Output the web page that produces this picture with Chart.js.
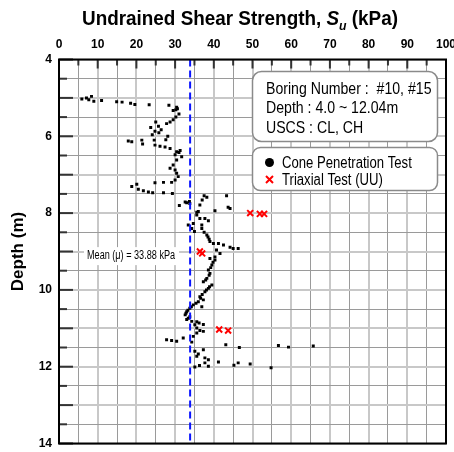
<!DOCTYPE html>
<html>
<head>
<meta charset="utf-8">
<script src="https://cdn.jsdelivr.net/npm/chart.js@4/dist/chart.umd.min.js"></script>
<style>
  html, body { margin: 0; padding: 0; background: #fff; }
</style>
</head>
<body>
<canvas id="chart" width="454" height="452"></canvas>
<script>
// CPT profile: undrained shear strength (kPa) against depth (m)
const cptSu = [
  5.9, 7.1, 7.7, 8.4, 9.0, 11.0, 14.9, 16.3, 18.5, 19.6, 23.3, 28.4,
  30.4, 30.6, 30.2, 29.5, 31.0, 30.2, 29.5, 28.7, 27.8, 25.0, 23.7, 25.7,
  26.4, 24.8, 25.8, 24.1, 28.1, 27.6, 24.6, 17.9, 18.8, 21.4, 21.6, 24.8,
  26.1, 27.4, 28.7, 31.3, 31.0, 30.0, 30.4, 31.7, 30.4, 29.5, 28.7, 30.0,
  30.4, 30.8, 30.0, 29.1, 27.0, 24.8, 20.1, 18.8, 20.5, 21.8, 23.1, 24.2,
  27.0, 29.3, 31.1, 32.6, 33.7, 33.0, 33.8, 37.5, 38.2, 37.0, 36.4, 43.3,
  40.3, 43.7, 44.2, 35.6, 36.0, 35.6, 36.4, 37.7, 38.6, 34.7, 33.4, 34.3,
  35.0, 36.9, 36.9, 37.5, 38.5, 38.2, 38.8, 39.0, 39.9, 41.2, 42.5, 44.2,
  45.0, 46.3, 40.7, 41.6, 40.3, 39.0, 40.3, 39.8, 39.5, 39.2, 38.6, 39.0,
  38.8, 38.2, 37.9, 37.3, 39.5, 38.9, 38.6, 38.1, 37.7, 37.0, 36.4, 36.6,
  37.3, 36.0, 35.4, 36.9, 34.7, 34.2, 33.8, 33.3, 33.0, 32.8, 32.6, 33.8,
  33.4, 33.0, 34.3, 35.6, 35.1, 36.2, 37.3, 35.6, 36.4, 37.3, 35.6, 34.7,
  34.3, 27.8, 29.1, 30.4, 32.1, 35.1, 36.0, 37.3, 35.6, 37.7, 38.6, 37.7,
  38.6, 36.3, 35.1, 43.1, 46.6, 56.7, 59.3, 65.7, 41.2, 45.2, 46.3, 49.4,
  54.8
];
const cptDepth = [
  5.03, 5.00, 5.05, 4.96, 5.09, 5.07, 5.10, 5.11, 5.14, 5.17, 5.18, 5.19,
  5.24, 5.28, 5.31, 5.33, 5.42, 5.50, 5.57, 5.63, 5.67, 5.63, 5.77, 5.74,
  5.83, 5.87, 5.91, 5.96, 6.00, 6.09, 6.10, 6.12, 6.14, 6.10, 6.20, 6.23,
  6.26, 6.28, 6.32, 6.37, 6.42, 6.48, 6.40, 6.53, 6.62, 6.75, 6.83, 6.88,
  6.96, 7.05, 7.14, 7.20, 7.20, 7.21, 7.25, 7.31, 7.38, 7.42, 7.45, 7.47,
  7.47, 7.49, 7.80, 7.71, 7.70, 7.73, 7.75, 7.55, 7.59, 7.66, 7.79, 7.55,
  7.94, 7.85, 7.88, 7.98, 7.96, 8.05, 8.14, 8.14, 8.20, 8.27, 8.31, 8.40,
  8.48, 8.31, 8.40, 8.50, 8.62, 8.57, 8.68, 8.74, 8.79, 8.79, 8.83, 8.89,
  8.92, 8.92, 8.96, 9.05, 9.14, 9.18, 9.22, 9.28, 9.35, 9.42, 9.48, 9.57,
  9.62, 9.70, 9.74, 9.79, 9.87, 9.92, 9.96, 10.00, 10.05, 10.12, 10.18, 10.22,
  10.26, 10.31, 10.35, 10.44, 10.39, 10.44, 10.48, 10.53, 10.57, 10.61, 10.65, 10.70,
  10.74, 10.77, 10.82, 10.83, 10.91, 10.86, 10.90, 10.99, 11.06, 11.08, 11.12, 11.21,
  11.36, 11.30, 11.32, 11.34, 11.25, 11.60, 11.67, 11.56, 11.73, 11.77, 11.82, 11.90,
  11.99, 11.97, 12.01, 11.43, 11.50, 11.45, 11.49, 11.46, 11.88, 11.96, 11.90, 11.93,
  12.03
];

// Triaxial (UU) results
const uuSu = [49.4, 51.9, 53.0, 36.4, 37.0, 41.4, 43.7];
const uuDepth = [8.00, 8.02, 8.02, 9.00, 9.05, 11.03, 11.06];

const meanSu = 33.88;
const suTickLabels = [0, 10, 20, 30, 40, 50, 60, 70, 80, 90, 100];
const depthTickLabels = [4, 6, 8, 10, 12, 14];
const infoLines = ['Boring Number :  #10, #15', 'Depth : 4.0 ~ 12.04m', 'USCS : CL, CH'];
const legendLabels = ['Cone Penetration Test', 'Triaxial Test (UU)'];

const FONT = "'Liberation Sans', Arial, sans-serif";

function toPoints(xs, ys) {
  return xs.map((x, i) => ({ x: x, y: ys[i] }));
}

// narrow text: draw with a horizontal squeeze
function narrowText(ctx, text, x, y, squeeze) {
  ctx.save();
  ctx.translate(x, y);
  ctx.scale(squeeze, 1);
  ctx.fillText(text, 0, 0);
  ctx.restore();
}

function roundBox(ctx, x, y, w, h, r) {
  ctx.beginPath();
  ctx.moveTo(x + r, y);
  ctx.lineTo(x + w - r, y);
  ctx.arcTo(x + w, y, x + w, y + r, r);
  ctx.lineTo(x + w, y + h - r);
  ctx.arcTo(x + w, y + h, x + w - r, y + h, r);
  ctx.lineTo(x + r, y + h);
  ctx.arcTo(x, y + h, x, y + h - r, r);
  ctx.lineTo(x, y + r);
  ctx.arcTo(x, y, x + r, y, r);
  ctx.closePath();
}

const decorPlugin = {
  id: 'decor',
  afterDatasetsDraw(chart) {
    const ctx = chart.ctx;
    const a = chart.chartArea;
    const xs = chart.scales.x;
    const ys = chart.scales.y;
    ctx.save();

    // inner tick marks
    ctx.strokeStyle = '#333';
    ctx.lineWidth = 2;
    for (let v = 0; v <= 100; v += 5) {
      const px = xs.getPixelForValue(v);
      const len = v % 10 === 0 ? 9 : 6;
      ctx.beginPath();
      ctx.moveTo(px, a.top);
      ctx.lineTo(px, a.top + len);
      ctx.stroke();
    }
    for (let d = 4; d <= 14; d += 0.5) {
      const py = ys.getPixelForValue(d);
      const len = d % 1 === 0 ? 14 : 8;
      ctx.beginPath();
      ctx.moveTo(a.left, py);
      ctx.lineTo(a.left + len, py);
      ctx.stroke();
    }

    // plot frame
    ctx.strokeStyle = '#000';
    ctx.lineWidth = 2;
    ctx.strokeRect(a.left, a.top, a.right - a.left, a.bottom - a.top);

    // mean label
    const label = 'Mean (\u03bc) = ' + meanSu.toFixed(2) + ' kPa';
    ctx.font = '12px ' + FONT;
    const squeeze = 0.76;
    const tw = ctx.measureText(label).width * squeeze;
    const lx = xs.getPixelForValue(meanSu) - 15 - tw;
    const ly = ys.getPixelForValue(9.12);
    ctx.fillStyle = '#fff';
    ctx.fillRect(lx - 3, ly - 9, tw + 7, 18);
    ctx.fillStyle = '#000';
    ctx.textBaseline = 'middle';
    narrowText(ctx, label, lx, ly, squeeze);

    // info box
    ctx.lineWidth = 1.5;
    ctx.strokeStyle = '#8a8a8a';
    ctx.fillStyle = '#fff';
    roundBox(ctx, 252.5, 71.5, 185, 70, 9);
    ctx.fill();
    ctx.stroke();
    roundBox(ctx, 252.5, 147.5, 185, 43, 8);
    ctx.fill();
    ctx.stroke();

    ctx.fillStyle = '#000';
    ctx.textBaseline = 'alphabetic';
    ctx.font = '17px ' + FONT;
    infoLines.forEach((t, i) => narrowText(ctx, t, 266, 93.5 + i * 19.6, 0.83));

    // legend
    ctx.font = '16px ' + FONT;
    ctx.beginPath();
    ctx.arc(269.5, 162.5, 4.5, 0, Math.PI * 2);
    ctx.fill();
    narrowText(ctx, legendLabels[0], 282, 167.5, 0.82);
    ctx.strokeStyle = '#ff0000';
    ctx.lineWidth = 2;
    ctx.beginPath();
    ctx.moveTo(266, 176); ctx.lineTo(273, 183);
    ctx.moveTo(273, 176); ctx.lineTo(266, 183);
    ctx.stroke();
    narrowText(ctx, legendLabels[1], 282, 184.5, 0.82);

    // chart title with subscript
    const cx = 240, by = 25;
    const p1 = 'Undrained Shear Strength, ';
    const p3 = ' (kPa)';
    const fMain = 'bold 20px ' + FONT;
    const fItal = 'italic bold 20px ' + FONT;
    const fSub = 'italic bold 13px ' + FONT;
    ctx.font = fMain; const w1 = ctx.measureText(p1).width; const w3 = ctx.measureText(p3).width;
    ctx.font = fItal; const w2 = ctx.measureText('S').width;
    ctx.font = fSub; const wu = ctx.measureText('u').width;
    const total = w1 + w2 + wu + w3;
    const k = Math.min(1, 316 / total);
    ctx.save();
    ctx.translate(cx - total * k / 2, by);
    ctx.scale(k, 1);
    ctx.fillStyle = '#000';
    ctx.font = fMain; ctx.fillText(p1, 0, 0);
    ctx.font = fItal; ctx.fillText('S', w1, 0);
    ctx.font = fSub; ctx.fillText('u', w1 + w2, 5);
    ctx.font = fMain; ctx.fillText(p3, w1 + w2 + wu, 0);
    ctx.restore();

    ctx.restore();
  }
};

new Chart(document.getElementById('chart'), {
  type: 'scatter',
  data: {
    datasets: [
      {
        label: 'Mean',
        type: 'line',
        data: [{ x: meanSu, y: 4 }, { x: meanSu, y: 14 }],
        borderColor: '#0a14ff',
        borderWidth: 2,
        borderDash: [7, 4],
        pointRadius: 0,
        fill: false
      },
      {
        label: legendLabels[0],
        data: toPoints(cptSu, cptDepth),
        pointStyle: 'rect',
        pointRadius: 2.1,
        borderWidth: 0,
        backgroundColor: '#000'
      },
      {
        label: legendLabels[1],
        data: toPoints(uuSu, uuDepth),
        pointStyle: 'crossRot',
        pointRadius: 4.2,
        borderWidth: 2,
        borderColor: '#ff0000'
      }
    ]
  },
  options: {
    responsive: false,
    animation: false,
    events: [],
    layout: { padding: { left: 0, right: 8, top: 0, bottom: 8.5 } },
    plugins: { legend: { display: false }, tooltip: { enabled: false } },
    scales: {
      x: {
        type: 'linear',
        position: 'top',
        min: 0,
        max: 100,
        afterFit: s => { s.height = 59.5; s.paddingLeft = 0; s.paddingRight = 0; },
        border: { display: false },
        grid: {
          drawTicks: false,
          color: c => (c.tick && c.tick.value % 10 === 0 ? '#c8c8c8' : '#9a9a9a'),
          lineWidth: c => (c.tick && c.tick.value % 10 === 0 ? 2 : 1)
        },
        ticks: {
          stepSize: 5,
          autoSkip: false,
          maxRotation: 0,
          padding: 8,
          color: '#000',
          font: { family: FONT, size: 12, weight: 'bold' },
          callback: v => (suTickLabels.includes(v) ? v : '')
        }
      },
      y: {
        type: 'linear',
        reverse: true,
        min: 4,
        max: 14,
        afterFit: s => { s.width = 59; s.paddingTop = 0; s.paddingBottom = 0; },
        border: { display: false },
        grid: {
          drawTicks: false,
          color: c => (c.tick && c.tick.value % 1 === 0 ? '#c8c8c8' : '#9a9a9a'),
          lineWidth: c => (c.tick && c.tick.value % 1 === 0 ? 2 : 1)
        },
        title: {
          display: true,
          text: 'Depth (m)',
          color: '#000',
          padding: { top: 8, bottom: 0 },
          font: { family: FONT, size: 17, weight: 'bold' }
        },
        ticks: {
          stepSize: 0.5,
          autoSkip: false,
          padding: 7,
          color: '#000',
          font: { family: FONT, size: 12, weight: 'bold' },
          callback: v => (depthTickLabels.includes(v) ? v : '')
        }
      }
    }
  },
  plugins: [decorPlugin]
});
</script>
</body>
</html>
